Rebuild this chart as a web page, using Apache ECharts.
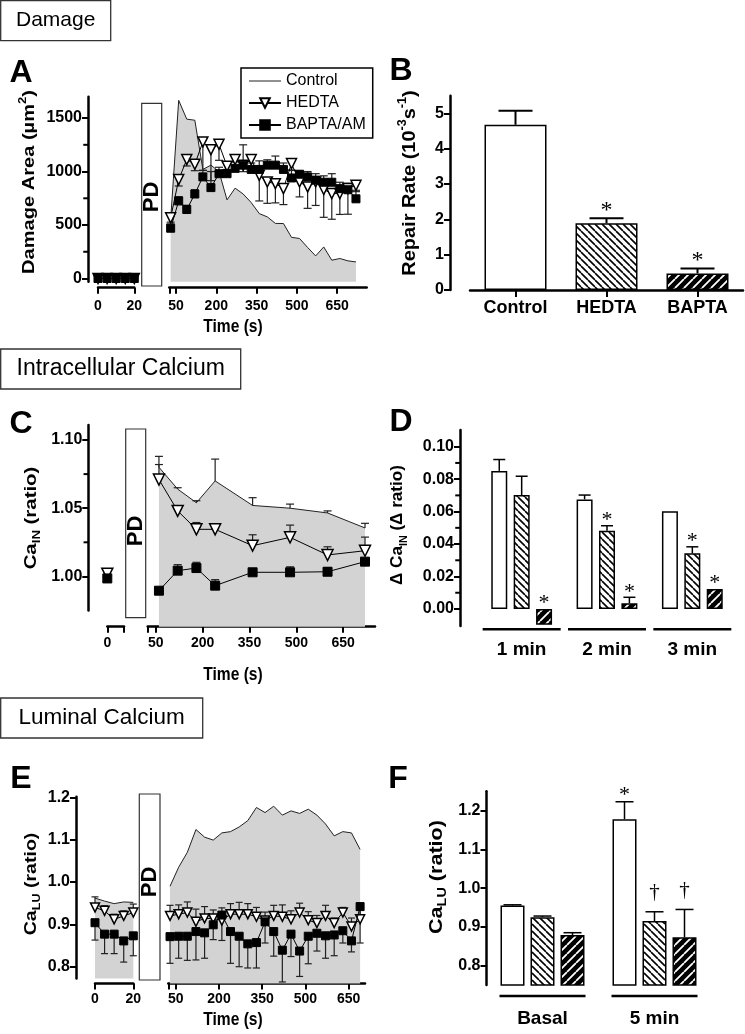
<!DOCTYPE html>
<html><head><meta charset="utf-8">
<script src="https://cdn.jsdelivr.net/npm/echarts@6/dist/echarts.min.js"></script>
<style>html,body{margin:0;padding:0;background:#fff}#c{width:745px;height:1034px}</style>
</head><body><div id="c"></div>
<script>
// ================= DATA =================
// Panel A – damage area (µm²)
const aBaseTimes = [0, 5, 10, 15, 20];
const aBaseControl = [30, 30, 25, 25, 30];
const aBaseHedta = [0, 0, 0, 0, 0];
const aBaseBapta = [0, 0, 0, 0, 0];
const aTimes = [30,60,90,120,150,180,210,240,270,300,330,360,390,420,450,480,510,540,570,600,630,660,690,720];
const aControl = [550,1666,1490,1480,1020,1060,1000,735,845,790,710,607,576,515,514,385,374,290,211,295,171,187,165,155];
const aHedta = [567,925,1112,1068,1277,1205,1255,1050,1112,1059,1112,965,903,887,841,1075,903,856,903,832,794,794,841,872];
const aHedtaErr = [40,60,60,60,265,290,150,60,60,60,80,240,200,180,150,60,140,200,220,260,240,195,240,60];
const aBapta = [470,725,645,790,950,850,980,980,1030,1060,1020,1020,1060,1060,1020,940,975,950,920,900,900,840,830,745];
const aBaptaErr = [40,40,40,40,60,150,60,40,60,190,60,80,50,85,60,70,30,50,60,60,80,60,60,80];
const aYTicks = [0, 500, 1000, 1500];
const aYMinor = [250, 750, 1250];
const baseTicks = [0, 20];
const timeTicks = [50, 200, 350, 500, 650];

// Panel B – repair rate
const bCategories = ['Control', 'HEDTA', 'BAPTA'];
const bRate = [4.68, 1.89, 0.47];
const bRateErr = [0.40, 0.14, 0.14];
const bMarks = ['', '*', '*'];
const bYTicks = [0, 1, 2, 3, 4, 5];

// Panel C – intracellular calcium
const cBaseTimes = [0];
const cBaseHedta = [1.002];
const cBaseHedtaErr = [0.002];
const cBaseBapta = [0.9985];
const cBaseBaptaErr = [0.003];
const cTimes = [60, 120, 180, 240, 360, 480, 600, 720];
const cControl = [1.080, 1.064, 1.054, 1.070, 1.052, 1.050, 1.0465, 1.0355];
const cControlErr = [0.008, 0.001, 0.0015, 0.016, 0.0057, 0.003, 0.0015, 0.0034];
const cHedta = [1.071, 1.048, 1.0345, 1.0345, 1.0225, 1.0286, 1.0157, 1.0188];
const cHedtaErr = [0.011, 0.0015, 0.005, 0.0005, 0.008, 0.009, 0.006, 0.010];
const cBapta = [0.9895, 1.0042, 1.0061, 0.9932, 1.0030, 1.0030, 1.0034, 1.0108];
const cBaptaErr = [0.001, 0.0044, 0.0042, 0.0044, 0.0015, 0.004, 0.003, 0.0015];
const cYTicks = [1.00, 1.05, 1.10];
const cYMinor = [1.025, 1.075];

// Panel D – Δ intracellular calcium
const dCategories = ['1 min', '2 min', '3 min'];
const dControl = [0.0851, 0.0675, 0.0602];
const dControlErr = [0.007, 0.0027, 0];
const dHedta = [0.0702, 0.0482, 0.0343];
const dHedtaErr = [0.0116, 0.0031, 0.004];
const dBapta = [-0.0098, 0.0035, 0.0123];
const dBaptaErr = [0, 0.0037, 0];
const dControlMarks = ['', '', ''];
const dHedtaMarks = ['', '*', '*'];
const dBaptaMarks = ['*', '*', '*'];
const dYTicks = [0, 0.02, 0.04, 0.06, 0.08, 0.10];
const dYMinor = [0.01, 0.03, 0.05, 0.07, 0.09];

// Panel E – luminal calcium
const eBaseTimes = [0, 5, 10, 15, 20];
const eBaseControl = [0.962, 0.955, 0.949, 0.953, 0.952];
const eBaseHedta = [0.940, 0.932, 0.912, 0.920, 0.928];
const eBaseHedtaErr = [0.025, 0.012, 0.012, 0.012, 0.020];
const eBaseBapta = [0.904, 0.877, 0.877, 0.861, 0.873];
const eBaseBaptaErr = [0.041, 0.046, 0.046, 0.050, 0.047];
const eTimes = [30,60,90,120,150,180,210,240,270,300,330,360,390,420,450,480,510,540,570,600,630,660,690];
const eControl = [0.990,1.035,1.070,1.124,1.106,1.099,1.116,1.119,1.130,1.145,1.176,1.164,1.179,1.158,1.168,1.162,1.172,1.158,1.137,1.109,1.119,1.116,1.077];
const eHedta = [0.920,0.924,0.928,0.906,0.914,0.914,0.909,0.924,0.924,0.924,0.918,0.909,0.920,0.918,0.912,0.928,0.910,0.903,0.920,0.903,0.928,0.895,0.912];
const eHedtaErr = [0.025,0.022,0.025,0.030,0.028,0.020,0.030,0.025,0.028,0.025,0.022,0.020,0.025,0.028,0.020,0.022,0.020,0.018,0.025,0.012,0.012,0.020,0.030];
const eBapta = [0.871,0.872,0.872,0.883,0.880,0.899,0.922,0.883,0.872,0.854,0.857,0.906,0.883,0.839,0.877,0.837,0.872,0.879,0.873,0.875,0.885,0.861,0.942];
const eBaptaErr = [0.063,0.052,0.057,0.067,0.060,0.035,0.060,0.075,0.072,0.057,0.060,0.050,0.058,0.075,0.053,0.060,0.065,0.042,0.053,0.049,0.029,0.026,0.086];
const eYTicks = [0.8, 0.9, 1.0, 1.1, 1.2];

// Panel F – luminal calcium, basal vs 5 min
const fCategories = ['Basal', '5 min'];
const fControl = [0.955, 1.178];
const fControlErr = [0.002, 0.045];
const fHedta = [0.925, 0.915];
const fHedtaErr = [0.003, 0.024];
const fBapta = [0.879, 0.873];
const fBaptaErr = [0.006, 0.072];
const fControlMarks = ['', '*'];
const fHedtaMarks = ['', '†'];
const fBaptaMarks = ['', '†'];
const fYTicks = [0.8, 0.9, 1.0, 1.1, 1.2];

// ================= STYLE / HELPERS =================
const FONT = "'Liberation Sans', Arial, Helvetica, sans-serif";
const SERIF = "'Liberation Serif', 'Times New Roman', 'DejaVu Serif', serif";
const GRAY = '#d3d3d3';
const INK = '#000';

function hatch(bg, fg, dir, p, lw) {
  const c = document.createElement('canvas'); c.width = p; c.height = p;
  const g = c.getContext('2d');
  g.fillStyle = bg; g.fillRect(0, 0, p, p);
  g.strokeStyle = fg; g.lineWidth = lw;
  g.beginPath();
  for (let k = -1; k <= 1; k++) {
    if (dir === '\\') { g.moveTo(k * p, 0); g.lineTo(k * p + p, p); }
    else { g.moveTo(k * p, p); g.lineTo(k * p + p, 0); }
  }
  g.stroke();
  return { image: c, repeat: 'repeat' };
}
const WHITE_FILL = '#fff';
const HEDTA_FILL = hatch('#fff', '#000', '\\', 7, 1.6);
const BAPTA_FILL = hatch('#000', '#fff', '/', 9, 1.8);

const grids = [], xAxes = [], yAxes = [], series = [], graphics = [];
const pts = (xs, ys) => xs.map((x, i) => [x, ys[i]]);

function grid(left, top, width, height) {
  grids.push({ left, top, width, height, containLabel: false, outerBoundsMode: 'none' });
  return grids.length - 1;
}
function valueX(gi, min, max, ticks, labels, offset, margin) {
  xAxes.push({ type: 'value', gridIndex: gi, min, max, position: 'bottom', offset,
    axisLine: { show: true, onZero: false, lineStyle: { color: INK, width: 2.5 } },
    axisTick: { show: true, customValues: ticks, length: 6, lineStyle: { color: INK, width: 2 } },
    axisLabel: { show: true, customValues: labels, margin, fontSize: 14, fontWeight: 'bold', fontFamily: FONT, color: INK },
    splitLine: { show: false } });
  return xAxes.length - 1;
}
function catX(gi, cats, o) {
  xAxes.push({ type: 'category', gridIndex: gi, data: cats, position: 'bottom',
    axisLine: { show: !!o.line, onZero: false, lineStyle: { color: INK, width: 2.5 } },
    axisTick: { show: !!o.line, alignWithLabel: true, length: 7, lineStyle: { color: INK, width: 2 } },
    axisLabel: { show: true, margin: o.margin, fontSize: o.size, fontWeight: 'bold', fontFamily: FONT, color: INK, interval: 0 },
    splitLine: { show: false } });
  return xAxes.length - 1;
}
function valueY(gi, min, max, ticks, offset, fmt) {
  yAxes.push({ type: 'value', gridIndex: gi, min, max, position: 'left', offset,
    axisLine: { show: true, onZero: false, lineStyle: { color: INK, width: 2.5 } },
    axisTick: { show: true, customValues: ticks, length: 6, lineStyle: { color: INK, width: 2 } },
    axisLabel: { show: true, customValues: ticks, formatter: fmt, margin: 6, fontSize: 16, fontWeight: 'bold', fontFamily: FONT, color: INK },
    splitLine: { show: false } });
  return yAxes.length - 1;
}
function hiddenY(gi, min, max) { yAxes.push({ type: 'value', gridIndex: gi, min, max, show: false }); return yAxes.length - 1; }

// short minor ticks on an offset y axis, placed through the axis scale
function minorTicks(xi, yi, isCat, vals, offset, len) {
  return { type: 'custom', xAxisIndex: xi, yAxisIndex: yi, silent: true, clip: false, animation: false, z: 6,
    encode: { x: 0, y: 1 }, data: vals.map(v => [0, v]),
    renderItem(p, api) {
      const c = api.coord([api.value(0), api.value(1)]);
      const gridLeft = isCat ? c[0] - api.size([1, 0])[0] / 2 : c[0];
      const x0 = gridLeft - offset;
      return { type: 'line', shape: { x1: x0 - 1.25 - len, y1: c[1], x2: x0, y2: c[1] }, style: { stroke: INK, lineWidth: 2 } };
    } };
}

function areaLine(name, xi, yi, xs, ys) {
  return { type: 'line', name, xAxisIndex: xi, yAxisIndex: yi, data: pts(xs, ys), symbol: 'none', z: 1,
    lineStyle: { color: '#222', width: 1 }, itemStyle: { color: '#222' },
    areaStyle: { color: GRAY, opacity: 1, origin: 'start' }, silent: true, animation: false };
}
function markerLine(name, xi, yi, xs, ys, kind, size) {
  const tri = kind === 'tri';
  return { type: 'line', name, xAxisIndex: xi, yAxisIndex: yi, data: pts(xs, ys), z: tri ? 4 : 5,
    symbol: tri ? 'triangle' : 'rect', symbolRotate: tri ? 180 : 0, symbolSize: size,
    showSymbol: true, showAllSymbol: true, silent: true, animation: false,
    lineStyle: { color: INK, width: 1 },
    itemStyle: tri ? { color: '#fff', borderColor: INK, borderWidth: 1.5 } : { color: INK, borderColor: INK, borderWidth: 1 } };
}
function errBars(xi, yi, xs, ys, errs, dir, cap) {
  return { type: 'custom', xAxisIndex: xi, yAxisIndex: yi, z: 3, silent: true, clip: false, animation: false,
    encode: { x: 0, y: 1 }, data: xs.map((x, i) => [x, ys[i], errs[i]]),
    renderItem(params, api) {
      const x = api.value(0), y = api.value(1), e = api.value(2);
      if (!(e > 0)) return { type: 'group', children: [] };
      const a = api.coord([x, y]), b = api.coord([x, y + dir * e]);
      const st = { stroke: '#222', lineWidth: 1.2 };
      return { type: 'group', children: [
        { type: 'line', shape: { x1: a[0], y1: a[1], x2: b[0], y2: b[1] }, style: st },
        { type: 'line', shape: { x1: b[0] - cap / 2, y1: b[1], x2: b[0] + cap / 2, y2: b[1] }, style: st }] };
    } };
}
function bars(name, xi, yi, vals, fill, width, gap) {
  return { type: 'bar', name, xAxisIndex: xi, yAxisIndex: yi, data: vals, barWidth: width, barGap: gap, z: 2,
    silent: true, animation: false, itemStyle: { color: fill, borderColor: INK, borderWidth: 1.5 } };
}
// error bar + significance mark over a bar in slot `slot` of `n`
function barExtras(xi, yi, vals, errs, marks, slot, n, pitch, cap, lw, markSize, lifts) {
  return { type: 'custom', xAxisIndex: xi, yAxisIndex: yi, z: 6, silent: true, clip: false, animation: false,
    encode: { x: 0, y: 1 }, data: vals.map((v, i) => [i, v, errs[i]]),
    renderItem(params, api) {
      const i = api.value(0), v = api.value(1), e = api.value(2);
      const a = api.coord([i, v]);
      const x = a[0] + (slot - (n - 1) / 2) * pitch;
      const top = api.coord([i, v + (e || 0)])[1];
      const base = Math.min(top, api.coord([i, 0])[1]);
      const ch = [];
      const st = { stroke: INK, lineWidth: lw };
      if (e > 0) {
        ch.push({ type: 'line', shape: { x1: x, y1: a[1], x2: x, y2: top }, style: st });
        ch.push({ type: 'line', shape: { x1: x - cap / 2, y1: top, x2: x + cap / 2, y2: top }, style: st });
      }
      const m = marks[params.dataIndex];
      if (m) ch.push({ type: 'text', x, y: base - lifts[m], style: { text: m, fontSize: markSize, fontFamily: SERIF, fill: INK, align: 'center', verticalAlign: 'middle' } });
      return { type: 'group', children: ch };
    } };
}
function groupLines(xi, yi, cats, yval, drop, half) {
  return { type: 'custom', xAxisIndex: xi, yAxisIndex: yi, silent: true, clip: false, animation: false,
    encode: { x: 0, y: 1 }, data: cats.map((c, i) => [i, yval]),
    renderItem(p, api) {
      const c = api.coord([api.value(0), api.value(1)]);
      return { type: 'line', shape: { x1: c[0] - half, y1: c[1] + drop, x2: c[0] + half, y2: c[1] + drop }, style: { stroke: INK, lineWidth: 2.5 } };
    } };
}
const f2 = v => v.toFixed(2), f1 = v => v.toFixed(1), f0 = v => String(Math.round(v));

// ================= PANEL A =================
{
  const gL = grid(98, 96.7, 36.3, 185), gR = grid(169.3, 96.7, 197.4, 185);
  const xL = valueX(gL, 0, 20, baseTicks, baseTicks, 6, 11);
  const xR = valueX(gR, 25, 760, [25].concat(timeTicks), timeTicks, 6, 11);
  const yL = valueY(gL, -30, 1700, aYTicks, 10, f0);
  const yR = hiddenY(gR, -30, 1700);
  series.push(minorTicks(xL, yL, false, aYMinor, 10, 3.5));
  series.push(areaLine('Control', xL, yL, aBaseTimes, aBaseControl));
  series.push(markerLine('BAPTA/AM', xL, yL, aBaseTimes, aBaseBapta, 'sq', 8));
  series.push(markerLine('HEDTA', xL, yL, aBaseTimes, aBaseHedta, 'tri', 10));
  series.push(areaLine('Control', xR, yR, aTimes, aControl));
  series.push(errBars(xR, yR, aTimes, aHedta, aHedtaErr, -1, 8));
  series.push(errBars(xR, yR, aTimes, aBapta, aBaptaErr, 1, 8));
  series.push(markerLine('HEDTA', xR, yR, aTimes, aHedta, 'tri', 10));
  series.push(markerLine('BAPTA/AM', xR, yR, aTimes, aBapta, 'sq', 8));
}
// ================= PANEL B =================
{
  const g = grid(470, 95.8, 273, 194.2);
  const x = catX(g, bCategories, { line: true, margin: 9, size: 18 });
  const y = valueY(g, 0, 5.5, bYTicks, 20, f0);
  const fills = [WHITE_FILL, HEDTA_FILL, BAPTA_FILL];
  series.push({ type: 'bar', xAxisIndex: x, yAxisIndex: y, barWidth: 62, z: 2, silent: true, animation: false,
    data: bRate.map((v, i) => ({ value: v, itemStyle: { color: fills[i] } })),
    itemStyle: { borderColor: INK, borderWidth: 1.5 } });
  series.push(barExtras(x, y, bRate, bRateErr, bMarks, 0, 1, 0, 34, 2, 24, { '*': 8 }));
}
// ================= PANEL C =================
{
  const gL = grid(107.3, 425, 16.7, 185.5), gR = grid(147.7, 425, 227.3, 201.7);
  const xL = valueX(gL, 0, 10, [0, 10], [0], 16.2, 9);
  const xR = valueX(gR, 24, 752, [24].concat(timeTicks), timeTicks, 0, 9);
  const yL = valueY(gL, 0.975, 1.111, cYTicks, 19, f2);
  const yR = hiddenY(gR, 0.9631, 1.111);
  series.push(minorTicks(xL, yL, false, cYMinor, 19, 3.5));
  series.push(errBars(xL, yL, cBaseTimes, cBaseHedta, cBaseHedtaErr, 1, 8));
  series.push(errBars(xL, yL, cBaseTimes, cBaseBapta, cBaseBaptaErr, 1, 8));
  series.push(markerLine('c-hedta0', xL, yL, cBaseTimes, cBaseHedta, 'tri', 11));
  series.push(markerLine('c-bapta0', xL, yL, cBaseTimes, cBaseBapta, 'sq', 9));
  series.push(areaLine('c-control', xR, yR, cTimes, cControl));
  series.push(errBars(xR, yR, cTimes, cControl, cControlErr, 1, 8));
  series.push(errBars(xR, yR, cTimes, cHedta, cHedtaErr, 1, 8));
  series.push(errBars(xR, yR, cTimes, cBapta, cBaptaErr, 1, 8));
  series.push(markerLine('c-hedta', xR, yR, cTimes, cHedta, 'tri', 11));
  series.push(markerLine('c-bapta', xR, yR, cTimes, cBapta, 'sq', 9));
}
// ================= PANEL D =================
{
  const g = grid(479, 430, 256, 196);
  const x = catX(g, dCategories, { line: false, margin: 14, size: 19 });
  const y = valueY(g, -0.0105, 0.1103, dYTicks, 19, f2);
  series.push(minorTicks(x, y, true, dYMinor, 19, 3.5));
  series.push(bars('d-control', x, y, dControl, WHITE_FILL, 16, '40%'));
  series.push(bars('d-hedta', x, y, dHedta, HEDTA_FILL, 16, '40%'));
  series.push(bars('d-bapta', x, y, dBapta, BAPTA_FILL, 16, '40%'));
  const lifts = { '*': 5.5 };
  series.push(barExtras(x, y, dControl, dControlErr, dControlMarks, 0, 3, 22.4, 12, 1.5, 22, lifts));
  series.push(barExtras(x, y, dHedta, dHedtaErr, dHedtaMarks, 1, 3, 22.4, 12, 1.5, 22, lifts));
  series.push(barExtras(x, y, dBapta, dBaptaErr, dBaptaMarks, 2, 3, 22.4, 12, 1.5, 22, lifts));
  series.push(groupLines(x, y, dCategories, -0.0105, 3.3, 39));
}
// ================= PANEL E =================
{
  const gL = grid(95, 796.7, 38.3, 181.7), gR = grid(168.3, 796.7, 196.7, 186.7);
  const xL = valueX(gL, 0, 20, baseTicks, baseTicks, 5, 9);
  const xR = valueX(gR, 24, 707, [24].concat(timeTicks), timeTicks, 0, 9);
  const yL = valueY(gL, 0.7725, 1.2015, eYTicks, 19, f1);
  const yR = hiddenY(gR, 0.7606, 1.2015);
  series.push(areaLine('e-control0', xL, yL, eBaseTimes, eBaseControl));
  series.push(errBars(xL, yL, eBaseTimes, eBaseHedta, eBaseHedtaErr, 1, 7));
  series.push(errBars(xL, yL, eBaseTimes, eBaseBapta, eBaseBaptaErr, -1, 7));
  series.push(markerLine('e-hedta0', xL, yL, eBaseTimes, eBaseHedta, 'tri', 9));
  series.push(markerLine('e-bapta0', xL, yL, eBaseTimes, eBaseBapta, 'sq', 8));
  series.push(areaLine('e-control', xR, yR, eTimes, eControl));
  series.push(errBars(xR, yR, eTimes, eHedta, eHedtaErr, 1, 7));
  series.push(errBars(xR, yR, eTimes, eBapta, eBaptaErr, -1, 7));
  series.push(markerLine('e-hedta', xR, yR, eTimes, eHedta, 'tri', 9));
  series.push(markerLine('e-bapta', xR, yR, eTimes, eBapta, 'sq', 8));
}
// ================= PANEL F =================
{
  const g = grid(486.5, 791.3, 224, 193.7);
  const x = catX(g, fCategories, { line: false, margin: 24, size: 19 });
  const y = valueY(g, 0.75, 1.25, fYTicks, 0, f1);
  series.push(bars('f-control', x, y, fControl, WHITE_FILL, 24, '25%'));
  series.push(bars('f-hedta', x, y, fHedta, HEDTA_FILL, 24, '25%'));
  series.push(bars('f-bapta', x, y, fBapta, BAPTA_FILL, 24, '25%'));
  const lifts = { '*': 6.5, '†': 19 };
  series.push(barExtras(x, y, fControl, fControlErr, fControlMarks, 0, 3, 30, 18, 1.5, 22, lifts));
  series.push(barExtras(x, y, fHedta, fHedtaErr, fHedtaMarks, 1, 3, 30, 18, 1.5, 21, lifts));
  series.push(barExtras(x, y, fBapta, fBaptaErr, fBaptaMarks, 2, 3, 30, 18, 1.5, 21, lifts));
  series.push(groupLines(x, y, fCategories, 0.75, 11, 43));
}

// ================= ANNOTATIONS =================
function header(x, y, w, h, text, size) {
  graphics.push({ type: 'rect', shape: { x, y, width: w, height: h }, style: { fill: '#fff', stroke: '#333', lineWidth: 1.3 } });
  graphics.push({ type: 'text', x: x + w / 2, y: y + h / 2, style: { text, fontSize: size, fontFamily: FONT, fill: INK, align: 'center', verticalAlign: 'middle' } });
}
header(0.7, 0.7, 110, 40, 'Damage', 21);
header(0.7, 349, 240, 40, 'Intracellular Calcium', 23);
header(0.7, 698, 202, 40, 'Luminal Calcium', 22.5);

function letter(x, y, t) {
  graphics.push({ type: 'text', x, y, style: { text: t, fontSize: 32, fontWeight: 'bold', fontFamily: FONT, fill: INK, align: 'center', verticalAlign: 'middle' } });
}
letter(21, 73, 'A'); letter(401, 71, 'B'); letter(21, 424, 'C'); letter(401, 422, 'D'); letter(21, 779, 'E'); letter(398, 779, 'F');

function pd(x, y, w, h, cy) {
  graphics.push({ type: 'rect', shape: { x, y, width: w, height: h }, style: { fill: '#fff', stroke: '#333', lineWidth: 1.2 } });
  graphics.push({ type: 'text', x: x + w / 2, y: cy, rotation: Math.PI / 2, style: { text: 'PD', fontSize: 22, fontWeight: 'bold', fontFamily: FONT, fill: INK, align: 'center', verticalAlign: 'middle' } });
}
pd(141.7, 103.3, 20, 182.7, 197);
pd(125.7, 429, 20, 188.7, 531);
pd(139.3, 794, 20.7, 186, 882);

const RICH = (size) => ({
  sup: { fontSize: Math.round(size * 0.65), fontWeight: 'bold', fontFamily: FONT, fill: INK, verticalAlign: 'top' },
  sub: { fontSize: Math.round(size * 0.65), fontWeight: 'bold', fontFamily: FONT, fill: INK, verticalAlign: 'bottom' }
});
function vtitle(x, y, text, size, sx) {
  graphics.push({ type: 'text', x, y, rotation: Math.PI / 2, scaleX: sx, scaleY: 1,
    style: { text, fontSize: size, fontWeight: 'bold', fontFamily: FONT, fill: INK, align: 'center', verticalAlign: 'middle', lineHeight: size * 1.35, rich: RICH(size) } });
}
vtitle(29, 182, 'Damage Area (µm{sup|2})', 17, 1.18);
vtitle(410, 183, 'Repair Rate (10{sup|-3}s{sup|-1})', 19, 1.05);
vtitle(31, 518, 'Ca{sub|IN} (ratio)', 17, 1.2);
vtitle(398, 525, 'Δ Ca{sub|IN} (Δ ratio)', 16, 1.07);
vtitle(31, 884, 'Ca{sub|LU} (ratio)', 17, 1.15);
vtitle(437, 877, 'Ca{sub|LU} (ratio)', 18, 1.2);

function htitle(x, y, text) {
  graphics.push({ type: 'text', x, y, scaleX: 0.82, scaleY: 1, style: { text, fontSize: 19, fontWeight: 'bold', fontFamily: FONT, fill: INK, align: 'center', verticalAlign: 'middle' } });
}
htitle(233, 327, 'Time (s)');
htitle(233, 675, 'Time (s)');
htitle(233, 1020, 'Time (s)');

const CONTROL_ICON = 'path://M0,0h0.01v0.01h-0.01z M0,5.5h32v1h-32z M0,11.99h0.01v0.01h-0.01z';

const chart = echarts.init(document.getElementById('c'), null, { renderer: 'canvas', width: 745, height: 1034 });
chart.setOption({
  animation: false,
  backgroundColor: '#fff',
  grid: grids, xAxis: xAxes, yAxis: yAxes, series,
  graphic: { elements: graphics },
  legend: { show: true, orient: 'vertical', left: 241, top: 68, padding: [5, 7, 5, 7], itemGap: 6,
    itemWidth: 32, itemHeight: 12, borderColor: INK, borderWidth: 1.5, backgroundColor: '#fff', selectedMode: false,
    data: [{ name: 'Control', icon: CONTROL_ICON }, { name: 'HEDTA' }, { name: 'BAPTA/AM' }],
    textStyle: { fontSize: 16, fontFamily: FONT, color: INK } }
});
</script></body></html>
